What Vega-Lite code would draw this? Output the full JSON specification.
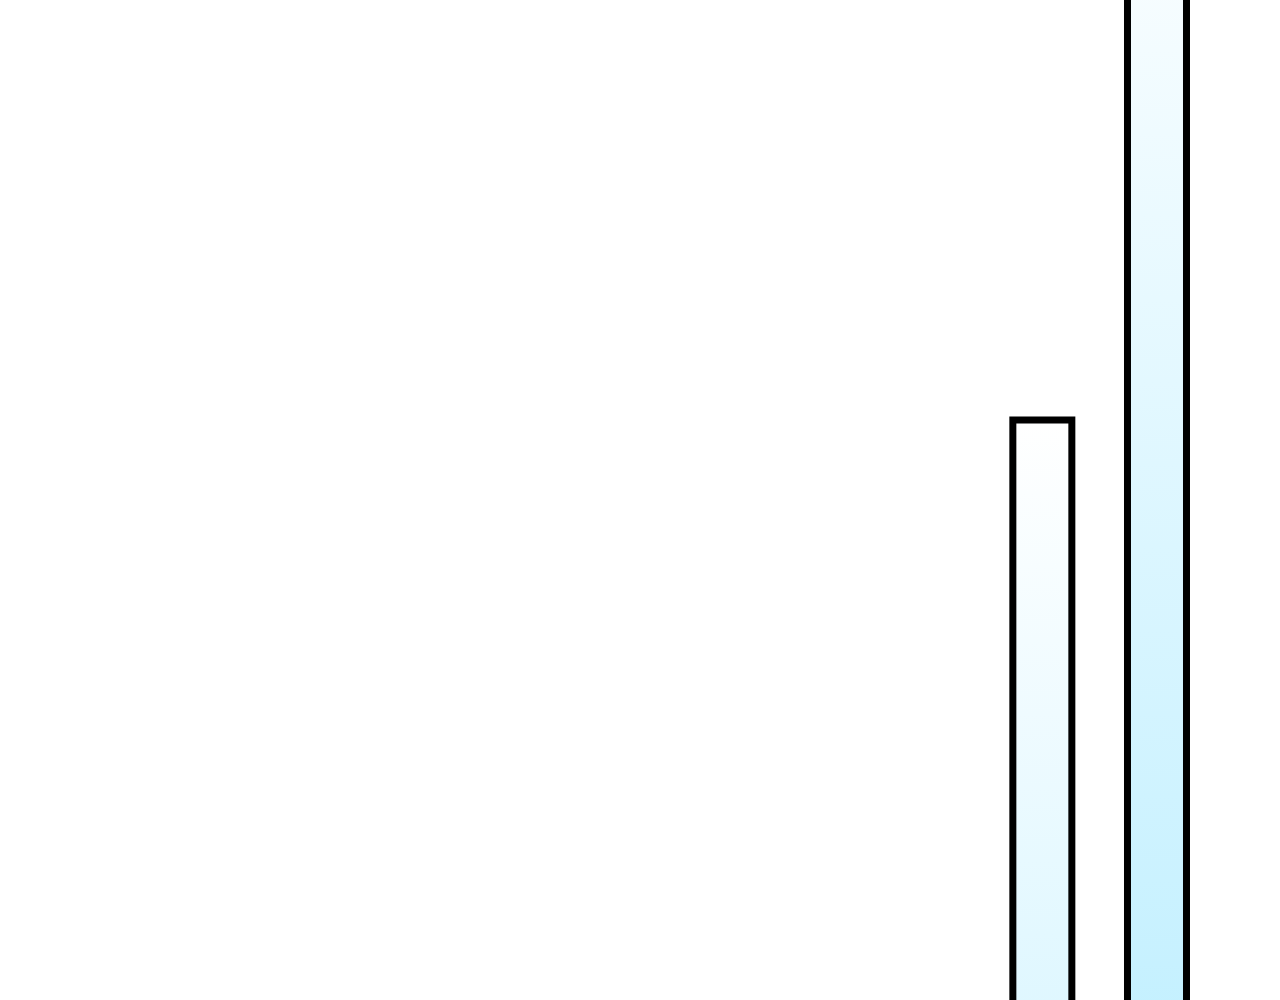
{
  "$schema": "https://vega.github.io/schema/vega-lite/v6.json",
  "width": 1280,
  "height": 1000,
  "autosize": {"type": "fit", "contains": "padding"},
  "padding": 0,
  "background": "white",
  "data": {
    "values": [
      {"category": "I", "value": 468},
      {"category": "J", "value": 530}
    ]
  },
  "mark": {
    "type": "bar",
    "clip": true,
    "stroke": "black",
    "strokeWidth": 7,
    "strokeJoin": "miter",
    "fill": {
      "gradient": "linear",
      "x1": 0,
      "y1": 0,
      "x2": 0,
      "y2": 1,
      "stops": [
        {"offset": 0, "color": "#ffffff"},
        {"offset": 1, "color": "#00bfff"}
      ]
    }
  },
  "encoding": {
    "x": {
      "field": "category",
      "type": "nominal",
      "axis": null,
      "scale": {
        "domain": ["A", "B", "C", "D", "E", "F", "G", "H", "I", "J"],
        "paddingInner": 0.4854,
        "paddingOuter": 0.825,
        "align": 0.5057,
        "round": false
      }
    },
    "y": {
      "field": "value",
      "type": "quantitative",
      "axis": null,
      "scale": {"domain": [410, 510], "zero": false, "nice": false, "round": false}
    }
  },
  "config": {
    "view": {"stroke": null}
  }
}
